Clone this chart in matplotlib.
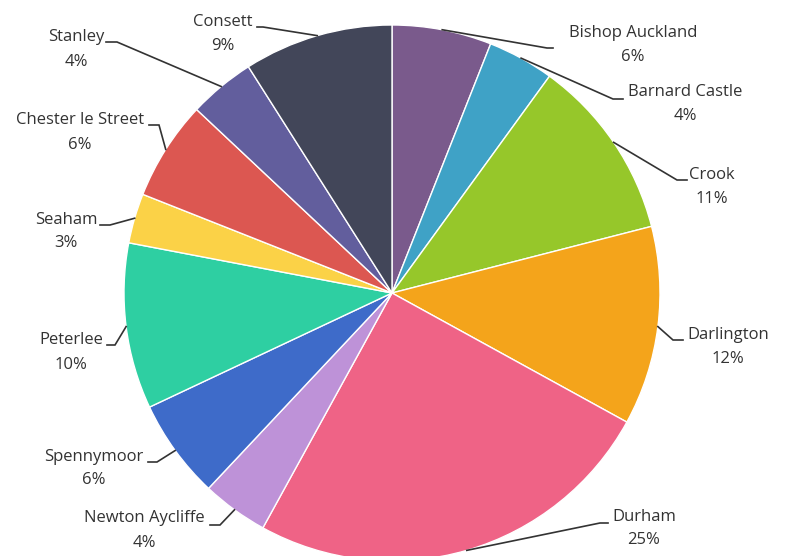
import matplotlib
matplotlib.use("Agg")
import matplotlib.pyplot as plt
import numpy as np

# Share of total by town (percent), clockwise from 12 o'clock
towns = ["Bishop Auckland", "Barnard Castle", "Crook", "Darlington", "Durham",
         "Newton Aycliffe", "Spennymoor", "Peterlee", "Seaham",
         "Chester le Street", "Stanley", "Consett"]
shares = [6, 4, 11, 12, 25, 4, 6, 10, 3, 6, 4, 9]
colors = ["#7a5a8c", "#3fa2c6", "#96c72a", "#f4a41b", "#ef6386", "#be92d8",
          "#3e6bc9", "#2ecfa2", "#fbd247", "#dc5751", "#625e9d", "#424659"]

W, H = 786, 556
# label layout in pixel coordinates measured from the top-left:
# (name centre x, name y, percent y, elbow x, elbow y, leader end x)
label_layout = [
    (633, 33, 57, 547, 48, 553),
    (685, 92, 116, 613, 99, 623),
    (712, 175, 199, 677, 180, 687),
    (728, 335, 359, 673, 340, 683),
    (644, 517, 540, 600, 523, 608),
    (144, 518, 543, 220, 525, 210),
    (94, 457, 480, 157, 462, 148),
    (71, 340, 365, 115, 345, 107),
    (66, 220, 243, 110, 225, 100),
    (80, 120, 145, 159, 125, 149),
    (76, 37, 62, 117, 42, 106),
    (223, 22, 46, 263, 27, 257),
]

plt.rcParams["font.family"] = ["Open Sans", "DejaVu Sans"]
text_color = "#333333"

fig = plt.figure(figsize=(W / 100, H / 100), dpi=100)
ax = fig.add_axes([0, 0, 1, 1])

cx, cy, r = 392, H - 293, 268
wedges, _ = ax.pie(shares, colors=colors, startangle=90, counterclock=False,
                   center=(cx, cy), radius=r, frame=True,
                   wedgeprops=dict(edgecolor="white", linewidth=1.0))

ax.set_xlim(0, W)
ax.set_ylim(0, H)
ax.set_aspect("equal")
ax.axis("off")

for wedge, town, share, lay in zip(wedges, towns, shares, label_layout):
    nx, ny, py, ex, ey, tx = lay
    mid = np.deg2rad((wedge.theta1 + wedge.theta2) / 2)
    sx, sy = cx + r * np.cos(mid), cy + r * np.sin(mid)
    ax.plot([sx, ex, tx], [sy, H - ey, H - ey], color="#333333", lw=1.2,
            solid_joinstyle="miter", zorder=3, clip_on=False)
    ax.text(nx, H - ny, town, ha="center", va="center", fontsize=12,
            color=text_color)
    ax.text(nx, H - py, f"{share}%", ha="center", va="center", fontsize=12,
            color=text_color)

fig.savefig("out.png", dpi=100, facecolor="white")
